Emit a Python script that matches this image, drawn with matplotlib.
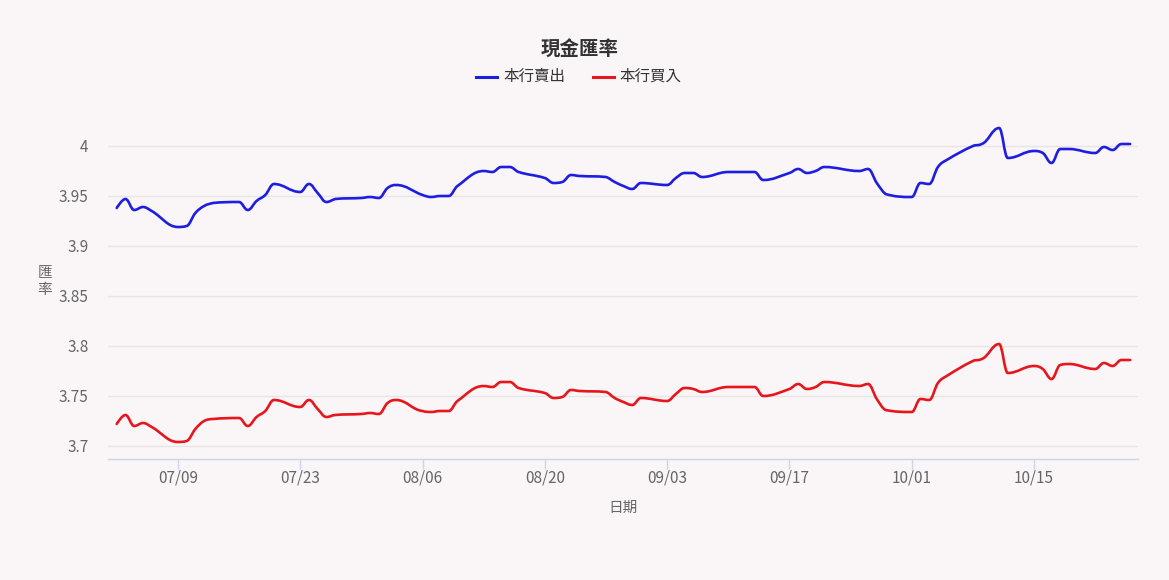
import matplotlib
matplotlib.use("Agg")
import matplotlib.pyplot as plt
import matplotlib.dates as mdates
from matplotlib.path import Path
from matplotlib.patches import PathPatch
from matplotlib.lines import Line2D
import numpy as np
from datetime import datetime, timedelta

plt.rcParams['font.family'] = ['Noto Sans CJK TC', 'DejaVu Sans']

# ---------------- data ----------------
dates = ["2018-07-02", "2018-07-03", "2018-07-04", "2018-07-05", "2018-07-06",
         "2018-07-09", "2018-07-10", "2018-07-11", "2018-07-12", "2018-07-13",
         "2018-07-16", "2018-07-17", "2018-07-18", "2018-07-19", "2018-07-20",
         "2018-07-23", "2018-07-24", "2018-07-25", "2018-07-26", "2018-07-27",
         "2018-07-30", "2018-07-31", "2018-08-01", "2018-08-02", "2018-08-03",
         "2018-08-06", "2018-08-07", "2018-08-08", "2018-08-09", "2018-08-10",
         "2018-08-13", "2018-08-14", "2018-08-15", "2018-08-16", "2018-08-17",
         "2018-08-20", "2018-08-21", "2018-08-22", "2018-08-23", "2018-08-24",
         "2018-08-27", "2018-08-28", "2018-08-29", "2018-08-30", "2018-08-31",
         "2018-09-03", "2018-09-04", "2018-09-05", "2018-09-06", "2018-09-07",
         "2018-09-10", "2018-09-11", "2018-09-12", "2018-09-13", "2018-09-14",
         "2018-09-17", "2018-09-18", "2018-09-19", "2018-09-20", "2018-09-21",
         "2018-09-25", "2018-09-26", "2018-09-27", "2018-09-28",
         "2018-10-01", "2018-10-02", "2018-10-03", "2018-10-04", "2018-10-05",
         "2018-10-08", "2018-10-09", "2018-10-11", "2018-10-12",
         "2018-10-15", "2018-10-16", "2018-10-17", "2018-10-18", "2018-10-19",
         "2018-10-22", "2018-10-23", "2018-10-24", "2018-10-25", "2018-10-26"]

sell = [3.938, 3.947, 3.936, 3.939, 3.935,
        3.919, 3.920, 3.933, 3.940, 3.943,
        3.944, 3.936, 3.945, 3.951, 3.962,
        3.954, 3.962, 3.953, 3.944, 3.947,
        3.948, 3.949, 3.948, 3.958, 3.961,
        3.951, 3.949, 3.950, 3.950, 3.960,
        3.975, 3.974, 3.979, 3.979, 3.974,
        3.968, 3.963, 3.964, 3.971, 3.970,
        3.969, 3.964, 3.960, 3.957, 3.963,
        3.961, 3.968, 3.973, 3.973, 3.969,
        3.974, 3.974, 3.974, 3.974, 3.966,
        3.973, 3.977, 3.973, 3.975, 3.979,
        3.975, 3.977, 3.963, 3.952,
        3.949, 3.963, 3.962, 3.979, 3.986,
        4.000, 4.002, 4.018, 3.988,
        3.995, 3.993, 3.983, 3.997, 3.997,
        3.993, 3.999, 3.996, 4.002, 4.002]

buy = [3.722, 3.731, 3.720, 3.723, 3.719,
       3.704, 3.705, 3.717, 3.725, 3.727,
       3.728, 3.720, 3.729, 3.735, 3.746,
       3.739, 3.746, 3.737, 3.729, 3.731,
       3.732, 3.733, 3.732, 3.743, 3.746,
       3.735, 3.734, 3.735, 3.735, 3.745,
       3.760, 3.759, 3.764, 3.764, 3.758,
       3.753, 3.748, 3.749, 3.756, 3.755,
       3.754, 3.748, 3.744, 3.741, 3.748,
       3.745, 3.752, 3.758, 3.757, 3.754,
       3.759, 3.759, 3.759, 3.759, 3.750,
       3.757, 3.762, 3.757, 3.759, 3.764,
       3.760, 3.762, 3.747, 3.736,
       3.734, 3.747, 3.746, 3.763, 3.770,
       3.785, 3.787, 3.802, 3.773,
       3.780, 3.777, 3.767, 3.781, 3.782,
       3.777, 3.783, 3.780, 3.786, 3.786]

xtick_dates = ["2018-07-09", "2018-07-23", "2018-08-06", "2018-08-20",
               "2018-09-03", "2018-09-17", "2018-10-01", "2018-10-15"]
yticks = [3.7, 3.75, 3.8, 3.85, 3.9, 3.95, 4.0]
ytick_labels = ["3.7", "3.75", "3.8", "3.85", "3.9", "3.95", "4"]

series_names = ["本行賣出", "本行買入"]
title = "現金匯率"
xlabel = "日期"
ylabel = "匯\n率"

# ---------------- style ----------------
BG = '#faf5f7'
BLUE = '#1e1ee0'
RED = '#e6161d'
GRID = '#e6e6e6'
AXIS = '#ccd6eb'
LABEL = '#666666'

W, H = 1169, 580
fig = plt.figure(figsize=(W / 100, H / 100), dpi=100, facecolor=BG)


def fx(px):
    return px / W


def fy(py):
    return 1 - py / H


ax = fig.add_axes([fx(108), fy(459), fx(1138) - fx(108), fy(120) - fy(459)])
ax.set_facecolor(BG)


def spline_path(xs, ys, smoothing=1.5):
    """Highcharts-like spline path through the data points."""
    n = len(xs)
    denom = smoothing + 1
    lc = [(xs[i], ys[i]) for i in range(n)]
    rc = [(xs[i], ys[i]) for i in range(n)]
    for i in range(1, n - 1):
        px, py = xs[i], ys[i]
        lx, ly = xs[i - 1], ys[i - 1]
        nx, ny = xs[i + 1], ys[i + 1]
        lcx = (smoothing * px + lx) / denom
        lcy = (smoothing * py + ly) / denom
        rcx = (smoothing * px + nx) / denom
        rcy = (smoothing * py + ny) / denom
        corr = 0.0
        if rcx != lcx:
            corr = (rcy - lcy) * (rcx - px) / (rcx - lcx) + py - rcy
        lcy += corr
        rcy += corr
        if lcy > ly and lcy > py:
            lcy = max(ly, py)
            rcy = 2 * py - lcy
        elif lcy < ly and lcy < py:
            lcy = min(ly, py)
            rcy = 2 * py - lcy
        if rcy > ny and rcy > py:
            rcy = max(ny, py)
            lcy = 2 * py - rcy
        elif rcy < ny and rcy < py:
            rcy = min(ny, py)
            lcy = 2 * py - rcy
        lc[i] = (lcx, lcy)
        rc[i] = (rcx, rcy)
    verts = [(xs[0], ys[0])]
    codes = [Path.MOVETO]
    for i in range(1, n):
        verts += [rc[i - 1], lc[i], (xs[i], ys[i])]
        codes += [Path.CURVE4] * 3
    return Path(verts, codes)


xd = mdates.date2num([datetime.strptime(d, "%Y-%m-%d") for d in dates])

for vals, col in [(sell, BLUE), (buy, RED)]:
    p = spline_path(list(xd), list(vals))
    ax.add_patch(PathPatch(p, fill=False, edgecolor=col, linewidth=1.9,
                           capstyle='round', joinstyle='round', zorder=3))

x0 = mdates.date2num(datetime(2018, 7, 1))
x1 = mdates.date2num(datetime(2018, 10, 26)) + 0.9
ax.set_xlim(x0, x1)
ax.set_ylim(3.687, 4.026)

# grid
ax.set_yticks(yticks)
ax.set_yticklabels(ytick_labels)
ax.yaxis.grid(True, color=GRID, linewidth=1.0)
ax.xaxis.grid(False)
ax.set_axisbelow(True)

xt = mdates.date2num([datetime.strptime(d, "%Y-%m-%d") for d in xtick_dates])
ax.set_xticks(xt)
ax.set_xticklabels([datetime.strptime(d, "%Y-%m-%d").strftime("%m/%d") for d in xtick_dates])

for s in ['top', 'right', 'left']:
    ax.spines[s].set_visible(False)
ax.spines['bottom'].set_color(AXIS)
ax.spines['bottom'].set_linewidth(1.0)

ax.tick_params(axis='x', colors=AXIS, length=7.5, width=1.0, pad=0.0,
               labelcolor=LABEL, labelsize=11)
ax.tick_params(axis='y', length=0, pad=14, labelcolor=LABEL, labelsize=11)

# titles
fig.text(fx(580), fy(50), title, ha='center', va='center', fontsize=14,
         fontweight='bold', color='#333333')
fig.text(fx(623), fy(508), xlabel, ha='center', va='center', fontsize=10.5,
         color=LABEL)
fig.text(fx(45), fy(281), ylabel, ha='center', va='center', fontsize=10.5,
         color=LABEL, linespacing=1.3)

# legend (manual)
for (lx0, lx1, tx), name, col in [((476, 497, 503), series_names[0], BLUE),
                                   ((593, 614, 619), series_names[1], RED)]:
    fig.add_artist(Line2D([fx(lx0), fx(lx1)], [fy(77), fy(77)], color=col,
                          linewidth=2.2, transform=fig.transFigure))
    fig.text(fx(tx), fy(76), name, ha='left', va='center', fontsize=11.2,
             color='#333333')

fig.savefig("out.png", dpi=100, facecolor=BG)
